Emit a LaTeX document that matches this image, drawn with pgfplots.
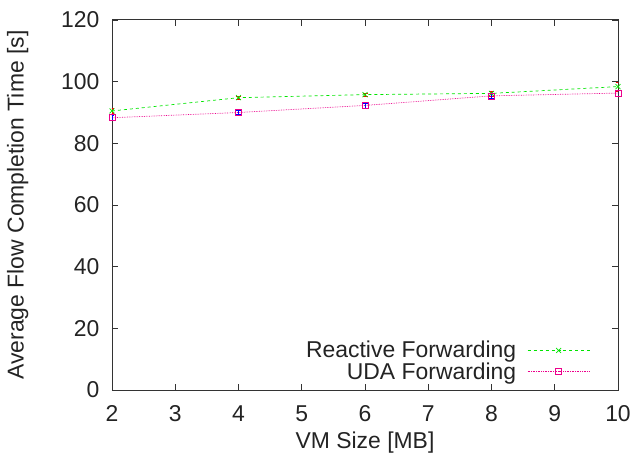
\documentclass[border=0pt]{standalone}
\usepackage{pgfplots}
\pgfplotsset{compat=1.18}
\usepackage{fontspec}
\setmainfont{Liberation Sans}
\usetikzlibrary{calc}
\definecolor{txt}{RGB}{35,35,35}
\begin{document}
\begin{tikzpicture}[x=1bp,y=1bp]
\begin{axis}[
    name=ax,
    scale only axis,
    width=506bp, height=370bp,
    xmin=2, xmax=10, ymin=0, ymax=120,
    xtick={2,3,...,10}, ytick={0,20,...,120},
    tick align=inside,
    major tick length=6bp,
    axis line style={line width=1pt, black!80},
    tick style={black!80, line width=0.8pt},
    font=\fontsize{23}{26}\selectfont\color{txt},
    /pgf/number format/assume math mode=true,
    xticklabel style={yshift=-12bp},
    yticklabel style={xshift=-9bp},
    xlabel={VM Size [MB]},
    ylabel={Average Flow Completion Time [s]},
    xlabel style={yshift=-3bp},
    ylabel style={at={(rel axis cs:0,0.5)}, anchor=south, yshift=80bp},
    legend style={draw=none, fill=none, at={(0.945,0.132)}, anchor=north east,
        font=\fontsize{23}{25}\selectfont\color{txt}, row sep=3bp, column sep=11bp,
        inner sep=0pt, nodes={inner sep=0bp}},
    legend cell align=right,
    legend plot pos=right,
    legend image code/.code={%
        \draw[#1,mark repeat=2,mark phase=2] plot coordinates {(0bp,0bp)(31bp,0bp)(62bp,0bp)};},
]
\addplot[green!90!black, dashed, line width=0.7pt, mark=x, mark size=3.5bp, mark options={solid},
    error bars/.cd, y dir=both, y explicit, error bar style={red, solid}, error mark options={red, rotate=90, mark size=2.5bp}]
  coordinates {
    (2,90.5) +- (0,0.8)
    (4,94.8) +- (0,0.6)
    (6,95.8) +- (0,0.6)
    (8,96.2) +- (0,0.8)
    (10,98.4) +- (0,1.5)
  };
\addlegendentry{Reactive Forwarding}
\addplot[magenta, densely dotted, line width=0.7pt, mark=square, mark size=3bp, mark options={solid},
    error bars/.cd, y dir=both, y explicit, error bar style={blue, solid}, error mark options={blue, rotate=90, mark size=2.5bp}]
  coordinates {
    (2,88.3) +- (0,0.8)
    (4,90.0) +- (0,0.6)
    (6,92.3) +- (0,0.8)
    (8,95.4) +- (0,0.8)
    (10,96.3) +- (0,1.0)
  };
\addlegendentry{UDA Forwarding}
\end{axis}
\pgfresetboundingbox
\path ($(ax.south west)+(-112bp,-73bp)$) rectangle ($(ax.north east)+(14bp,20bp)$);
\end{tikzpicture}
\end{document}
